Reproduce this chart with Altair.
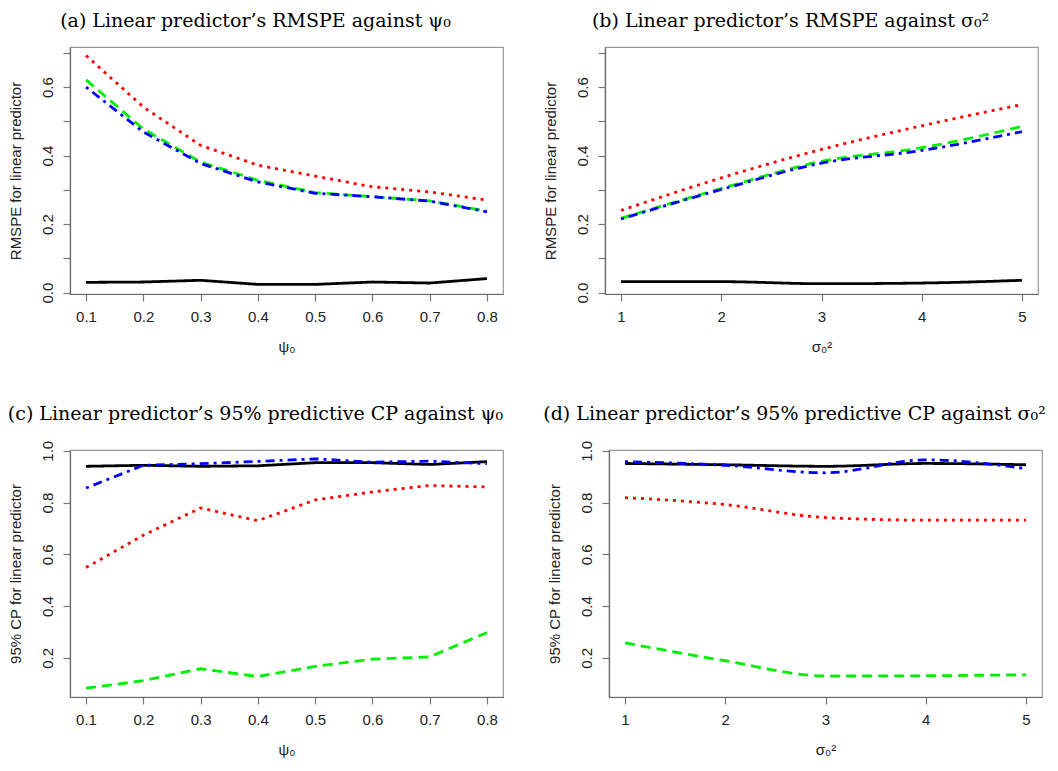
import altair as alt
import pandas as pd

# ---- data ----
psi = [0.1, 0.2, 0.3, 0.4, 0.5, 0.6, 0.7, 0.8]
sig = [1, 2, 3, 4, 5]

series_names = ["solid", "dotted", "dashed", "dotdash"]

rmspe_psi_black = [0.030, 0.031, 0.036, 0.024, 0.024, 0.031, 0.028, 0.041]
rmspe_psi_red = [0.692, 0.542, 0.430, 0.372, 0.340, 0.309, 0.294, 0.270]
rmspe_psi_green = [0.621, 0.478, 0.381, 0.328, 0.292, 0.280, 0.268, 0.238]
rmspe_psi_blue = [0.600, 0.469, 0.377, 0.323, 0.290, 0.280, 0.267, 0.236]

rmspe_sig_black = [0.032, 0.032, 0.026, 0.028, 0.036]
rmspe_sig_red = [0.240, 0.335, 0.418, 0.487, 0.549]
rmspe_sig_green = [0.217, 0.304, 0.383, 0.423, 0.485]
rmspe_sig_blue = [0.215, 0.301, 0.378, 0.415, 0.470]

cp_psi_black = [0.940, 0.944, 0.940, 0.942, 0.954, 0.954, 0.947, 0.958]
cp_psi_red = [0.549, 0.674, 0.779, 0.730, 0.810, 0.841, 0.866, 0.860]
cp_psi_green = [0.083, 0.112, 0.158, 0.128, 0.167, 0.195, 0.204, 0.298]
cp_psi_blue = [0.856, 0.944, 0.950, 0.959, 0.969, 0.956, 0.960, 0.950]

cp_sig_black = [0.951, 0.946, 0.940, 0.951, 0.946]
cp_sig_red = [0.819, 0.792, 0.742, 0.732, 0.732]
cp_sig_green = [0.258, 0.189, 0.130, 0.131, 0.135]
cp_sig_blue = [0.958, 0.944, 0.915, 0.965, 0.931]

titles = [
    "(a) Linear predictor\u2019s RMSPE against \u03c8\u2080",
    "(b) Linear predictor\u2019s RMSPE against \u03c3\u2080\u00b2",
    "(c) Linear predictor\u2019s 95% predictive CP against \u03c8\u2080",
    "(d) Linear predictor\u2019s 95% predictive CP against \u03c3\u2080\u00b2",
]
xlabels = ["\u03c8\u2080", "\u03c3\u2080\u00b2"]
ylabels = ["RMSPE for linear predictor", "95% CP for linear predictor"]

# ---- styling ----
styles = {
    "solid": dict(color="#000000", dash=[1, 0]),
    "dotted": dict(color="#FF0000", dash=[3, 5]),
    "dashed": dict(color="#00F000", dash=[10, 6]),
    "dotdash": dict(color="#0000FF", dash=[3, 5, 9, 5]),
}

LBL = "Liberation Sans"


def panel(xs, ys_list, title, xtitle, ytitle, xdomain, xticks, xfmt,
          ydomain, yticks, ylabelexpr, interp):
    layers = []
    for name, ys in zip(series_names, ys_list):
        df = pd.DataFrame({"x": xs, "y": ys, "series": name})
        st = styles[name]
        layers.append(
            alt.Chart(df).mark_line(
                color=st["color"], strokeDash=st["dash"], strokeWidth=2.8,
                interpolate=interp, clip=True,
            ).encode(
                x=alt.X("x:Q", title=xtitle,
                        scale=alt.Scale(domain=xdomain, nice=False, zero=False),
                        axis=alt.Axis(values=xticks, format=xfmt)),
                y=alt.Y("y:Q", title=ytitle,
                        scale=alt.Scale(domain=ydomain, nice=False, zero=False),
                        axis=alt.Axis(values=yticks, labelExpr=ylabelexpr)),
            )
        )
    return alt.layer(*layers).properties(
        width=433, height=247,
        title=alt.TitleParams(title, font="DejaVu Serif", fontSize=19,
                              fontWeight="normal", anchor="middle", frame="bounds",
                              color="#000000", offset=16),
    )


yfmt_even = "(round(datum.value*10) % 2 == 0) ? format(datum.value, '.1f') : ''"
yfmt_all = "format(datum.value, '.1f')"

pa = panel(psi, [rmspe_psi_black, rmspe_psi_red, rmspe_psi_green, rmspe_psi_blue],
           titles[0], xlabels[0], ylabels[0], [0.072, 0.828], psi, ".1f",
           [-0.004, 0.717], [0, 0.1, 0.2, 0.3, 0.4, 0.5, 0.6, 0.7], yfmt_even, "linear")
pb = panel(sig, [rmspe_sig_black, rmspe_sig_red, rmspe_sig_green, rmspe_sig_blue],
           titles[1], xlabels[1], ylabels[0], [0.84, 5.16], sig, "d",
           [-0.004, 0.717], [0, 0.1, 0.2, 0.3, 0.4, 0.5, 0.6, 0.7], yfmt_even, "monotone")
pc = panel(psi, [cp_psi_black, cp_psi_red, cp_psi_green, cp_psi_blue],
           titles[2], xlabels[0], ylabels[1], [0.072, 0.828], psi, ".1f",
           [0.049, 1.003], [0.2, 0.4, 0.6, 0.8, 1.0], yfmt_all, "linear")
pd_ = panel(sig, [cp_sig_black, cp_sig_red, cp_sig_green, cp_sig_blue],
            titles[3], xlabels[1], ylabels[1], [0.84, 5.16], sig, "d",
            [0.049, 1.003], [0.2, 0.4, 0.6, 0.8, 1.0], yfmt_all, "monotone")

chart = alt.vconcat(
    alt.hconcat(pa, pb, spacing=38),
    alt.hconcat(pc, pd_, spacing=38),
    spacing=49,
).properties(
    padding={"left": -1, "top": 3, "right": 0, "bottom": 0},
    background="white",
).configure_view(
    stroke="#9a9a9a", strokeWidth=1.2,
).configure_axis(
    grid=False,
    domain=True, domainColor="#666666", domainWidth=1.2,
    ticks=True, tickColor="#777777", tickSize=7, tickWidth=1.2,
    labelFont=LBL, labelFontSize=15, labelColor="#222222", labelPadding=8,
    titleFont=LBL, titleFontSize=15, titleFontWeight="normal", titleColor="#222222",
).configure_axisX(
    titlePadding=15,
).configure_axisY(
    labelAngle=-90, labelAlign="center", labelBaseline="bottom", titlePadding=17,
)

chart.save("out.html", embed_options={"renderer": "svg", "actions": False})
